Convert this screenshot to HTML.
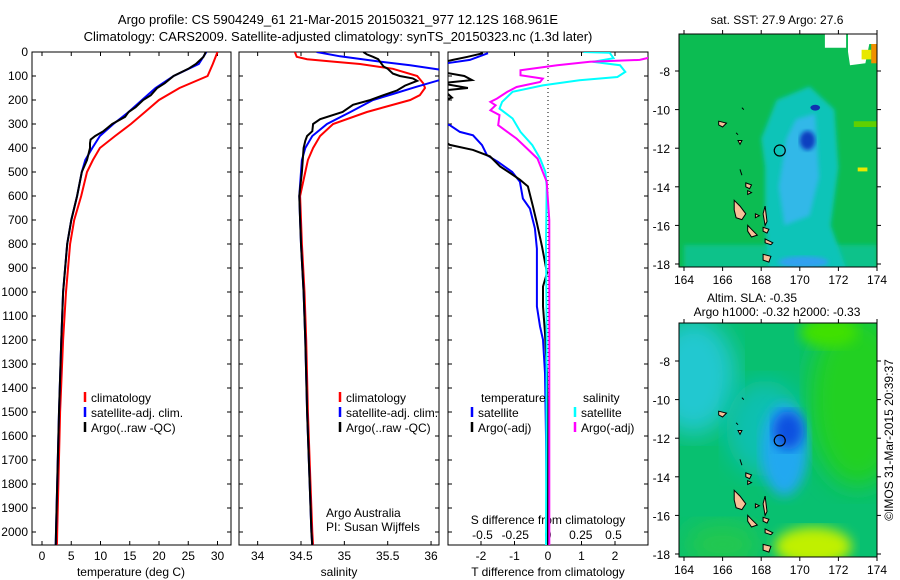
<!DOCTYPE html>
<html><head><meta charset="utf-8">
<style>
html,body{margin:0;padding:0;background:#fff;}
svg{display:block;font-family:"Liberation Sans",sans-serif;font-size:12px;}
</style></head>
<body>
<svg id="fig" width="900" height="580" viewBox="0 0 900 580" xmlns="http://www.w3.org/2000/svg">
<defs>
<clipPath id="c1"><rect x="32" y="52" width="199" height="493"/></clipPath>
<clipPath id="c2"><rect x="239" y="52" width="200" height="493"/></clipPath>
<clipPath id="c3"><rect x="448" y="52" width="200" height="493"/></clipPath>
<clipPath id="cm1"><rect x="679" y="34" width="198" height="233"/></clipPath>
<clipPath id="cm2"><rect x="679" y="323" width="198" height="234"/></clipPath>
<filter id="blur6"><feGaussianBlur stdDeviation="6"/></filter>
<filter id="blur12"><feGaussianBlur stdDeviation="12"/></filter>
<filter id="blur3"><feGaussianBlur stdDeviation="2"/></filter>
</defs>
<text x="338" y="24" text-anchor="middle" font-size="13">Argo profile: CS 5904249_61 21-Mar-2015 20150321_977 12.12S 168.961E</text>
<text x="338" y="41" text-anchor="middle" font-size="13">Climatology: CARS2009. Satellite-adjusted climatology: synTS_20150323.nc (1.3d later)</text>
<g id="p1"></g>
<g id="p2"></g>
<g id="p3"></g>
<g id="m1"></g>
<g id="m2"></g>
<text x="777" y="24" text-anchor="middle">sat. SST: 27.9 Argo: 27.6</text>
<text x="752" y="302" text-anchor="middle">Altim. SLA: -0.35</text>
<text x="777" y="316" text-anchor="middle">Argo h1000: -0.32 h2000: -0.33</text>
<text transform="translate(893,440) rotate(-90)" text-anchor="middle">©IMOS 31-Mar-2015 20:39:37</text>
</svg>
<script>
// ---------- data ----------
const depthT = [0,50,100,150,200,250,300,350,400,450,500,600,700,800,1000,1200,1500,2000,2060];
const tClim = [30.0,29.2,28.3,23.5,20.0,17.6,15.2,12.5,9.9,8.7,7.7,6.7,5.5,4.8,4.1,3.6,3.1,2.6,2.55];
const tSat = [28.1,26.8,22.5,19.4,17.1,14.8,12.2,9.9,8.6,7.4,6.8,6.0,5.0,4.3,3.6,3.3,2.9,2.4,2.35];
const depthTA = [0,20,50,70,100,130,150,180,200,230,250,270,300,330,350,365,380,400,450,500,600,700,800,1000,1200,1500,2000,2060];
const tArgo = [28.0,27.6,26.3,25.0,22.5,21.0,19.7,18.6,17.3,16.0,14.8,14.2,12.0,10.5,9.1,8.3,8.2,8.2,7.7,6.8,6.0,5.0,4.3,3.6,3.3,2.9,2.4,2.35];

const depthSC = [0,20,30,40,50,70,100,130,150,180,200,250,300,350,400,450,500,600,700,800,1000,1200,1500,1800,2000,2060];
const sClim = [34.43,34.45,34.57,34.87,35.18,35.56,35.84,35.91,35.93,35.87,35.76,35.26,34.87,34.72,34.64,34.58,34.55,34.49,34.50,34.51,34.54,34.56,34.58,34.61,34.63,34.64];
const depthSS = [0,18,40,55,73,95,118,145,175,200,250,300,350,400,450,500,600,700,800,1000,1200,1500,1800,2000,2060];
const sSat = [34.68,34.95,35.41,35.76,36.09,36.35,36.09,35.83,35.56,35.33,35.07,34.80,34.63,34.55,34.51,34.50,34.48,34.49,34.50,34.53,34.55,34.57,34.60,34.62,34.63];
const depthSA = [0,10,20,30,40,60,70,90,100,110,120,140,160,180,200,220,250,280,300,330,350,370,400,500,600,700,800,1000,1200,1500,1800,2000,2060];
const sArgo = [35.22,35.26,35.33,35.39,35.41,35.45,35.50,35.56,35.64,35.79,35.84,35.70,35.61,35.45,35.30,35.10,34.98,34.72,34.64,34.63,34.57,34.55,34.53,34.51,34.48,34.49,34.50,34.53,34.55,34.57,34.60,34.62,34.63];

const depthDTA = [5,20,33,54,80,100,117,130,150,160,190,210,250,300,350,387,408,435,477,504,532,560,643,713,810,921,977,1060,1171,1338,1600,2060];
const dTArgo = [-1.94,-2.4,-2.84,-3.5,-3.3,-2.5,-2.27,-3.2,-2.39,-3.1,-2.87,-3.3,-3.5,-3.6,-3.3,-2.93,-2.24,-1.73,-1.43,-1.13,-0.84,-0.6,-0.45,-0.33,-0.18,-0.03,-0.15,-0.15,-0.09,-0.03,0,0];
const depthDTS = [5,33,45,60,150,290,305,333,347,388,430,458,500,541,611,652,735,820,921,1060,1143,1199,1338,1600,2060];
const dTSat = [-1.79,-2.33,-2.93,-3.5,-4.5,-3.3,-2.93,-2.63,-2.24,-1.97,-1.82,-1.49,-1.07,-0.84,-0.75,-0.54,-0.39,-0.33,-0.33,-0.33,-0.24,-0.15,-0.09,-0.06,-0.03];
const depthDSS = [0,3,26,41,55,83,104,118,139,166,208,236,277,333,388,444,500,560,800,1200,2060];
const dSSat = [0.27,0.47,0.5,0.34,0.55,0.59,0.53,0.24,-0.04,-0.27,-0.35,-0.37,-0.27,-0.21,-0.12,-0.06,-0.02,-0.01,-0.015,-0.01,-0.015];
const depthDSA = [20,33,41,55,76,97,111,125,146,166,194,208,222,243,263,305,333,361,402,444,500,541,700,2060];
const dSArgo = [0.8,0.70,0.32,0.07,-0.21,-0.21,-0.04,-0.06,-0.24,-0.31,-0.39,-0.44,-0.40,-0.44,-0.37,-0.38,-0.31,-0.24,-0.16,-0.08,-0.04,-0.01,0.01,0.01];

const depthTicks = [0,100,200,300,400,500,600,700,800,900,1000,1100,1200,1300,1400,1500,1600,1700,1800,1900,2000];
const tTicks = [0,5,10,15,20,25,30];
const sTicks = [34,34.5,35,35.5,36];
const dTTicks = [-2,-1,0,1,2];
const dSTicks = [-0.5,-0.25,0,0.25,0.5];
const dSTickLabels = ['-0.5','-0.25','0','0.25','0.5'];
const lonTicks = [164,166,168,170,172,174];
const latTicks1 = [-8,-10,-12,-14,-16,-18];
const latTicks2 = [-8,-10,-12,-14,-16,-18];
const argoPos = [168.961,-12.12];

// ---------- helpers ----------
const NS='http://www.w3.org/2000/svg';
function mk(tag,parent,attrs){const e=document.createElementNS(NS,tag);for(const k in attrs)e.setAttribute(k,attrs[k]);parent.appendChild(e);return e;}
const yD = d => 52 + d*0.24;
const xT = t => 42 + t*5.85;
const xS = s => 301 + (s-34.5)*86.7;
const xDT = v => 548 + v*33.5;
const xDS = v => 548 + v*131;
function line(parent,xs,ds,fx,color,name,clip){
  const pts=xs.map((v,i)=>fx(v).toFixed(1)+','+yD(ds[i]).toFixed(1)).join(' ');
  const p=mk('polyline',parent,{points:pts,fill:'none',stroke:color,'stroke-width':2,'clip-path':'url(#'+clip+')'});
  
  
}
function frame(parent,x0,x1,name){
  const r=mk('rect',parent,{x:x0,y:52,width:x1-x0,height:493,fill:'none',stroke:'#000','stroke-width':1});
  
  
  depthTicks.forEach(d=>{mk('line',parent,{x1:x0,x2:x0+4,y1:yD(d),y2:yD(d),stroke:'#000'});mk('line',parent,{x1:x1,x2:x1-4,y1:yD(d),y2:yD(d),stroke:'#000'});});
}
function xticks(parent,ticks,fx,labels,ly){
  ticks.forEach((t,i)=>{const x=fx(t);mk('line',parent,{x1:x,x2:x,y1:52,y2:56,stroke:'#000'});mk('line',parent,{x1:x,x2:x,y1:545,y2:541,stroke:'#000'});
    if(labels){const tx=mk('text',parent,{x:x,y:ly,'text-anchor':'middle'});tx.textContent=labels[i];
      
      }});
}
function legend(parent,x,y,color,txt){
  mk('line',parent,{x1:x,x2:x,y1:y-10,y2:y,stroke:color,'stroke-width':2.5});
  const t=mk('text',parent,{x:x+6,y:y});t.textContent=txt;
  
  
}
function label(parent,x,y,txt,anchor,name){
  const t=mk('text',parent,{x:x,y:y,'text-anchor':anchor||'start'});t.textContent=txt;
  
  
  return t;
}

// ---------- panel 1 ----------
const p1=document.getElementById('p1');
frame(p1,32,231,'temperature-frame');
depthTicks.forEach(d=>label(p1,28,yD(d)+4,String(d),'end','y-tick-label'));
xticks(p1,tTicks,xT,tTicks.map(String),560);
label(p1,131,576,'temperature (deg C)','middle','x-axis-title-temperature');
line(p1,tClim,depthT,xT,'#ff0000','temp-climatology-line','c1');
line(p1,tSat,depthT,xT,'#0000ff','temp-satellite-line','c1');
line(p1,tArgo,depthTA,xT,'#000000','temp-argo-line','c1');
legend(p1,85,402,'#ff0000','climatology');
legend(p1,85,417,'#0000ff','satellite-adj. clim.');
legend(p1,85,432,'#000000','Argo(..raw -QC)');

// ---------- panel 2 ----------
const p2=document.getElementById('p2');
frame(p2,239,439,'salinity-frame');
xticks(p2,sTicks,xS,sTicks.map(String),560);
label(p2,339,576,'salinity','middle','x-axis-title-salinity');
line(p2,sClim,depthSC,xS,'#ff0000','sal-climatology-line','c2');
line(p2,sSat,depthSS,xS,'#0000ff','sal-satellite-line','c2');
line(p2,sArgo,depthSA,xS,'#000000','sal-argo-line','c2');
legend(p2,340,402,'#ff0000','climatology');
legend(p2,340,417,'#0000ff','satellite-adj. clim.');
legend(p2,340,432,'#000000','Argo(..raw -QC)');
label(p2,326,517,'Argo Australia','start','credit-argo-australia');
label(p2,326,531,'PI: Susan Wijffels','start','credit-pi');

// ---------- panel 3 ----------
const p3=document.getElementById('p3');
frame(p3,448,648,'difference-frame');
mk('line',p3,{x1:548,x2:548,y1:52,y2:545,stroke:'#000','stroke-dasharray':'1,3'});
xticks(p3,dTTicks,xDT,dTTicks.map(String),560);
label(p3,548,576,'T difference from climatology','middle','x-axis-title-tdiff');
label(p3,548,524,'S difference from climatology','middle','inner-axis-title-sdiff');
dSTicks.forEach((v,i)=>label(p3,xDS(v),539,dSTickLabels[i],'middle','s-tick-label'));
line(p3,dTSat,depthDTS,xDT,'#0000ff','tdiff-satellite-line','c3');
line(p3,dTArgo,depthDTA,xDT,'#000000','tdiff-argo-line','c3');
line(p3,dSSat,depthDSS,xDS,'#00ffff','sdiff-satellite-line','c3');
line(p3,dSArgo,depthDSA,xDS,'#ff00ff','sdiff-argo-line','c3');
label(p3,481,402,'temperature','start','legend-title-temperature');
legend(p3,472,417,'#0000ff','satellite');
legend(p3,472,432,'#000000','Argo(-adj)');
label(p3,583,402,'salinity','start','legend-title-salinity');
legend(p3,575,417,'#00ffff','satellite');
legend(p3,575,432,'#ff00ff','Argo(-adj)');

// ---------- maps ----------
const mx = lon => 684 + (lon-164)*19.3;
function mapAxes(g,top,yl,lats,name){
  const r=mk('rect',g,{x:679,y:top,width:198,height:(name==='m1'?233:234),fill:'none',stroke:'#000'});
  
  
  const bot=top+(name==='m1'?233:234);
  lonTicks.forEach(l=>{const x=mx(l);mk('line',g,{x1:x,x2:x,y1:top,y2:top-4,stroke:'#000'});mk('line',g,{x1:x,x2:x,y1:bot,y2:bot+4,stroke:'#000'});
    label(g,x,bot+17,String(l),'middle','map-lon-label');});
  lats.forEach(l=>{const y=yl(l);mk('line',g,{x1:679,x2:675,y1:y,y2:y,stroke:'#000'});mk('line',g,{x1:877,x2:881,y1:y,y2:y,stroke:'#000'});
    label(g,670,y+5,String(l),'end','map-lat-label');});
}
const islands=[
 [[166.6,-14.7],[166.9,-15.0],[167.2,-15.4],[167.0,-15.7],[166.7,-15.6],[166.6,-15.2]],
 [[167.3,-16.0],[167.5,-16.2],[167.8,-16.5],[167.5,-16.6],[167.3,-16.3]],
 [[168.1,-17.5],[168.5,-17.6],[168.4,-17.9],[168.1,-17.8]],
 [[168.1,-16.1],[168.4,-16.2],[168.3,-16.4],[168.1,-16.3]],
 [[167.2,-13.8],[167.5,-13.9],[167.4,-14.1],[167.2,-14.0]],
 [[167.3,-14.2],[167.5,-14.3],[167.3,-14.4]],
 [[167.7,-15.4],[167.9,-15.5],[167.7,-15.6]],
 [[168.2,-15.0],[168.3,-15.8],[168.2,-16.0],[168.1,-15.4]],
 [[168.2,-16.7],[168.6,-16.9],[168.5,-17.0],[168.2,-16.9]],
 [[165.8,-10.6],[166.2,-10.7],[166.0,-10.9],[165.8,-10.8]],
 [[166.8,-11.6],[167.0,-11.6],[166.9,-11.8]],
 [[166.7,-11.2],[166.8,-11.3]],[[167.0,-9.9],[167.1,-10.0]],[[166.9,-13.1],[167.0,-13.4]]
];
function drawMap(g,yl,clip,kind){
  const c=mk('g',g,{'clip-path':'url(#'+clip+')'});
  const poly=(pts,fill,filt)=>{const p=mk('polygon',c,{points:pts.map(q=>mx(q[0]).toFixed(1)+','+yl(q[1]).toFixed(1)).join(' '),fill:fill});if(filt)p.setAttribute('filter','url(#'+filt+')');return p;};
  const ell=(lon,lat,rx,ry,fill,filt)=>{const e=mk('ellipse',c,{cx:mx(lon),cy:yl(lat),rx:rx*19.3,ry:ry*19.3,fill:fill});if(filt)e.setAttribute('filter','url(#'+filt+')');};
  if(kind==='sst'){
    mk('rect',c,{x:679,y:34,width:198,height:233,fill:'#0cbc52'});
    poly([[164,-17],[174,-17],[174,-18.5],[164,-18.5]],'#08c28a','blur3');
    poly([[168.8,-9.5],[170.5,-8.8],[171.8,-10],[172,-13],[171.6,-16],[172.5,-18.5],[168.4,-18.5],[168.2,-16],[168.2,-13],[168,-11.5]],'#10c4b8','blur3');
    poly([[169.8,-10.5],[170.8,-10.2],[171,-13.5],[170.5,-15.5],[169.2,-16],[168.9,-14],[169.3,-11.5]],'#30b8e8','blur3');
    ell(170.4,-11.6,0.4,0.5,'#1040c0','blur3');
    ell(170.2,-17.9,1.3,0.3,'#30a0f0','blur3');
    ell(170.8,-9.9,0.25,0.15,'#1030b0');
    poly([[171.3,-6],[172.4,-6],[172.4,-6.8],[171.3,-6.8]],'#ffffff');
    poly([[172.5,-6],[174.2,-6],[174.2,-6.6],[173.6,-6.6],[173.4,-7.6],[172.6,-7.7],[172.5,-7.0]],'#ffffff');
    poly([[173.7,-6.6],[174.2,-6.6],[174.2,-7.6],[173.7,-7.6]],'#f09000');
    poly([[173.2,-6.9],[173.7,-6.9],[173.7,-7.4],[173.2,-7.4]],'#e8e800');
    poly([[173,-13.0],[173.5,-13.0],[173.5,-13.2],[173,-13.2]],'#e8e800');
    poly([[172.8,-10.6],[174,-10.6],[174,-10.9],[172.8,-10.9]],'#60d000');
  } else {
    mk('rect',c,{x:679,y:323,width:198,height:234,fill:'#08c070'});
    ell(164.5,-8.8,2.2,3,'#20c8d0','blur12');
    ell(168.2,-11.5,2,2.5,'#10c0b0','blur12');
    ell(173,-10,2.5,4.5,'#20d020','blur12');
    ell(166,-17.5,2,1.2,'#20c850','blur12');
    ell(171.5,-6.5,1.5,0.8,'#40e000','blur6');
    ell(169.2,-12.6,1.2,2.4,'#20a8f0','blur6');
    ell(169.4,-11.6,0.8,1.0,'#1050e0','blur6');
    ell(170.7,-17.6,2,1.0,'#c0f000','blur6');
  }
  islands.forEach(isl=>{const p=poly(isl,'#f8c098');p.setAttribute('stroke','#000');p.setAttribute('stroke-width','1');
    
    });
  const ci=mk('circle',c,{cx:mx(argoPos[0]),cy:yl(argoPos[1]),r:5.5,fill:'none',stroke:'#000','stroke-width':1.2});
  
  
}
const yl1 = lat => 71 + (-8-lat)*19.3;
const yl2 = lat => 361 + (-8-lat)*19.3;
const m1=document.getElementById('m1'), m2=document.getElementById('m2');
drawMap(m1,yl1,'cm1','sst'); mapAxes(m1,34,yl1,latTicks1,'m1');
drawMap(m2,yl2,'cm2','sla'); mapAxes(m2,323,yl2,latTicks2,'m2');
</script>
</body></html>
